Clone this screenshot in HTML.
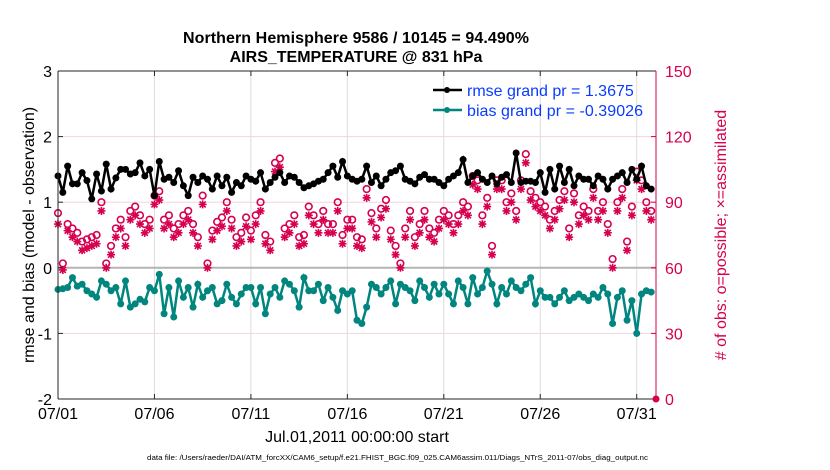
<!DOCTYPE html>
<html><head><meta charset="utf-8"><style>
body{margin:0;background:#fff;}
svg{display:block;font-family:"Liberation Sans",Arial,sans-serif;}
</style></head><body>
<svg id="chart" width="830" height="470" viewBox="0 0 830 470">
<text x="356" y="43" font-size="16" font-weight="bold" text-anchor="middle" textLength="346">Northern Hemisphere 9586 / 10145 = 94.490%</text>
<text x="356" y="62" font-size="16" font-weight="bold" text-anchor="middle">AIRS_TEMPERATURE @ 831 hPa</text>
<g id="grid"></g>
<g id="marks"></g>
<g id="axes"></g>
<text x="357" y="442" font-size="16" text-anchor="middle">Jul.01,2011 00:00:00 start</text>
<text x="147" y="460" font-size="7.5" textLength="501" lengthAdjust="spacingAndGlyphs">data file: /Users/raeder/DAI/ATM_forcXX/CAM6_setup/f.e21.FHIST_BGC.f09_025.CAM6assim.011/Diags_NTrS_2011-07/obs_diag_output.nc</text>
<text transform="translate(34,235) rotate(-90)" font-size="16" text-anchor="middle">rmse and bias (model - observation)</text>
<text transform="translate(726,235) rotate(-90)" font-size="16" fill="#d6004f" text-anchor="middle"># of obs: o=possible; ×=assimilated</text>
<g>
<line x1="433" y1="90" x2="462" y2="90" stroke="#000" stroke-width="2.5"/><circle cx="447" cy="90" r="3" fill="#000"/>
<text x="467" y="96" font-size="16" fill="#0a3cff">rmse grand pr = 1.3675</text>
<line x1="433" y1="110" x2="462" y2="110" stroke="#00857f" stroke-width="2.5"/><circle cx="447" cy="110" r="3" fill="#00857f"/>
<text x="467" y="116" font-size="16" fill="#0a3cff" textLength="176">bias grand pr = -0.39026</text>
</g>
</svg>
<script>
const xTickLabels=["07/01","07/06","07/11","07/16","07/21","07/26","07/31"];
const xTickDays=[0,5,10,15,20,25,30];
const leftTicks=[-2,-1,0,1,2,3];
const rightTicks=[0,30,60,90,120,150];
const rmse=[1.40,1.15,1.55,1.28,1.28,1.45,1.33,1.05,1.43,1.17,1.58,1.20,1.37,1.50,1.50,1.43,1.45,1.60,1.40,1.50,1.10,1.62,1.35,1.38,1.30,1.48,1.25,1.10,1.38,1.30,1.40,1.35,1.20,1.40,1.25,1.38,1.15,1.30,1.25,1.40,1.35,1.32,1.45,1.20,1.30,1.38,1.45,1.30,1.40,1.38,1.30,1.22,1.25,1.28,1.32,1.35,1.45,1.55,1.38,1.62,1.40,1.35,1.32,1.35,1.55,1.30,1.40,1.25,1.35,1.45,1.48,1.55,1.35,1.32,1.28,1.38,1.42,1.35,1.35,1.30,1.25,1.35,1.40,1.45,1.65,1.30,1.40,1.45,1.35,1.30,1.40,1.28,1.38,1.42,1.30,1.75,1.30,1.32,1.32,1.30,1.45,1.15,1.50,1.20,1.55,1.30,1.50,1.25,1.40,1.35,1.35,1.25,1.40,1.35,1.20,1.35,1.40,1.45,1.30,1.50,1.35,1.55,1.25,1.20];
const bias=[-0.33,-0.32,-0.30,-0.15,-0.28,-0.25,-0.35,-0.40,-0.45,-0.20,-0.25,-0.35,-0.30,-0.55,-0.20,-0.60,-0.55,-0.48,-0.52,-0.30,-0.35,-0.10,-0.70,-0.30,-0.75,-0.20,-0.45,-0.30,-0.60,-0.25,-0.45,-0.35,-0.30,-0.55,-0.50,-0.25,-0.45,-0.55,-0.40,-0.30,-0.30,-0.55,-0.30,-0.70,-0.40,-0.30,-0.45,-0.20,-0.25,-0.35,-0.60,-0.15,-0.35,-0.35,-0.25,-0.50,-0.30,-0.45,-0.65,-0.35,-0.40,-0.35,-0.80,-0.85,-0.60,-0.25,-0.30,-0.40,-0.30,-0.20,-0.55,-0.25,-0.30,-0.35,-0.50,-0.20,-0.30,-0.45,-0.25,-0.40,-0.25,-0.40,-0.55,-0.20,-0.30,-0.55,-0.15,-0.40,-0.30,-0.05,-0.25,-0.55,-0.30,-0.40,-0.20,-0.30,-0.35,-0.25,-0.15,-0.55,-0.35,-0.45,-0.45,-0.55,-0.45,-0.35,-0.50,-0.45,-0.40,-0.45,-0.50,-0.40,-0.45,-0.30,-0.40,-0.85,-0.45,-0.35,-0.80,-0.50,-1.00,-0.40,-0.35,-0.37];
const possible=[85,62,80,78,76,72,73,74,75,90,62,70,78,82,74,86,88,84,80,82,93,95,82,84,78,80,84,86,80,74,93,62,77,81,83,90,82,74,76,83,77,84,90,75,72,108,110,78,80,84,74,75,88,84,80,86,80,80,90,75,82,82,74,73,96,85,78,87,91,77,70,62,78,86,74,80,86,78,76,82,86,84,80,84,90,88,102,100,84,92,70,100,100,90,94,86,100,112,95,92,90,88,82,86,91,95,78,94,84,88,86,96,86,90,80,64,90,96,72,88,104,100,90,86];
const assimilated=[80,59,77,74,72,68,69,70,71,86,60,66,74,78,70,82,84,80,76,78,89,91,78,80,74,76,80,82,76,70,89,60,73,77,79,86,78,70,72,79,73,80,86,71,68,104,106,74,76,80,70,71,84,80,76,82,76,76,86,71,78,78,70,69,92,81,74,83,87,73,66,60,74,82,70,76,82,74,72,78,82,80,76,80,86,84,98,96,80,88,66,96,96,86,90,82,96,108,91,88,86,84,78,82,87,91,74,90,80,84,82,92,82,86,76,60,86,92,68,84,100,96,86,82];
const NS="http://www.w3.org/2000/svg";
const L=58,R=656,T=71,B=399;
const xs=d=>L+d/31*(R-L);
const yl=v=>B-(v+2)/5*(B-T);
const yr=n=>B-n/150*(B-T);
function mk(tag,attrs,parent){const e=document.createElementNS(NS,tag);for(const k in attrs)e.setAttribute(k,attrs[k]);parent.appendChild(e);return e;}
const grid=document.getElementById('grid'),marks=document.getElementById('marks'),axes=document.getElementById('axes');
xTickDays.forEach((d,i)=>{
  const g=mk('line',{x1:xs(d),x2:xs(d),y1:T,y2:B,stroke:'#dcdcdc','stroke-width':1},grid);
  
  
  mk('line',{x1:xs(d),x2:xs(d),y1:B,y2:B-5,stroke:'#262626'},axes);
  mk('line',{x1:xs(d),x2:xs(d),y1:T,y2:T+5,stroke:'#262626'},axes);
  const t=mk('text',{x:xs(d),y:B+20,'font-size':16,'text-anchor':'middle'},axes);
  t.textContent=xTickLabels[i];
  
  
});
rightTicks.forEach(n=>{
  const g=mk('line',{x1:L,x2:R,y1:yr(n),y2:yr(n),stroke:'#f0d6e0','stroke-width':1},grid);
  
  
  mk('line',{x1:R,x2:R-5,y1:yr(n),y2:yr(n),stroke:'#d6004f'},axes);
  const t=mk('text',{x:R+9,y:yr(n)+6,'font-size':16,fill:'#d6004f'},axes);
  t.textContent=n;
  
  
});
leftTicks.forEach(v=>{
  mk('line',{x1:L,x2:L+5,y1:yl(v),y2:yl(v),stroke:'#262626'},axes);
  const t=mk('text',{x:L-6,y:yl(v)+6,'font-size':16,'text-anchor':'end'},axes);
  t.textContent=v;
  
  
});
const z=mk('line',{x1:L,x2:R,y1:yl(0),y2:yl(0),stroke:'#b4b4b4','stroke-width':2},grid);


mk('line',{x1:L,x2:R,y1:T,y2:T,stroke:'#262626'},axes);
mk('line',{x1:L,x2:R,y1:B,y2:B,stroke:'#262626'},axes);
mk('line',{x1:L,x2:L,y1:T,y2:B,stroke:'#262626'},axes);
mk('line',{x1:R,x2:R,y1:T,y2:B,stroke:'#d6004f'},axes);
mk('circle',{cx:R,cy:B,r:3.5,fill:'#d6004f'},axes);
const xd=i=>xs(i*0.25);
possible.forEach((n,i)=>{
  const c=mk('circle',{cx:xd(i),cy:yr(n),r:3.3,fill:'none',stroke:'#d6004f','stroke-width':1.6},marks);
  
  
});
assimilated.forEach((n,i)=>{
  const x=xd(i),y=yr(n),s=4;
  const a=mk('path',{d:`M${x-s} ${y}H${x+s}M${x} ${y-s}V${y+s}M${x-3} ${y-3}L${x+3} ${y+3}M${x-3} ${y+3}L${x+3} ${y-3}`,stroke:'#d6004f','stroke-width':1.6},marks);
  
  
});
function series(vals,color,name){
  const p=mk('polyline',{points:vals.map((v,i)=>xd(i)+','+yl(v)).join(' '),fill:'none',stroke:color,'stroke-width':2.5},marks);
  
  
  vals.forEach((v,i)=>{
    const c=mk('circle',{cx:xd(i),cy:yl(v),r:3.5,fill:color},marks);
    
    
  });
}
series(rmse,'#000','rmse');
series(bias,'#00857f','bias');
</script>
</body></html>
